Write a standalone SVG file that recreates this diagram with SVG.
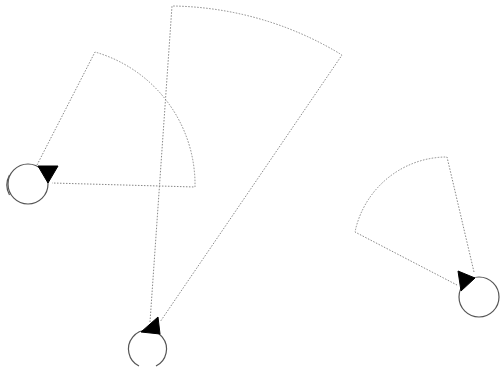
<svg xmlns="http://www.w3.org/2000/svg" width="500" height="376" viewBox="0 0 500 376">
<style>
.fov{fill:none;stroke:#888;stroke-width:1;stroke-dasharray:1.5,1.5}
.body{fill:#fff;stroke:#555;stroke-width:1.2}
.open{fill:none;stroke:#555;stroke-width:1.2}
.head{fill:#000;stroke:#000;stroke-width:1}
</style>
<rect width="500" height="376" fill="#fff"/>
<g id="connectors">
<path class="fov" d="M37,165 L95,52 A138,138 0 0 1 195,187 L52,183"/>
<path class="fov" d="M150,322 L172,6 A334,334 0 0 1 342,55 L160,322"/>
<path class="fov" d="M474,272 L447,157 A94,94 0 0 0 355,232 L457,285"/>
</g>
<g id="node1">
<circle class="body" cx="28" cy="184" r="20"/>
<path class="open" d="M9.5,175 A21,21 0 0 0 9.5,195"/>
<polygon class="head" points="38,166 58,166 48,183"/>
</g>
<g id="node2">
<path class="open" d="M139,366 A19,19 0 1 1 156,366"/>
<polygon class="head" points="141,332 158,317 160,334"/>
</g>
<g id="node3">
<circle class="body" cx="479" cy="297" r="20"/>
<polygon class="head" points="458,271 475,278 461,291"/>
</g>
</svg>
